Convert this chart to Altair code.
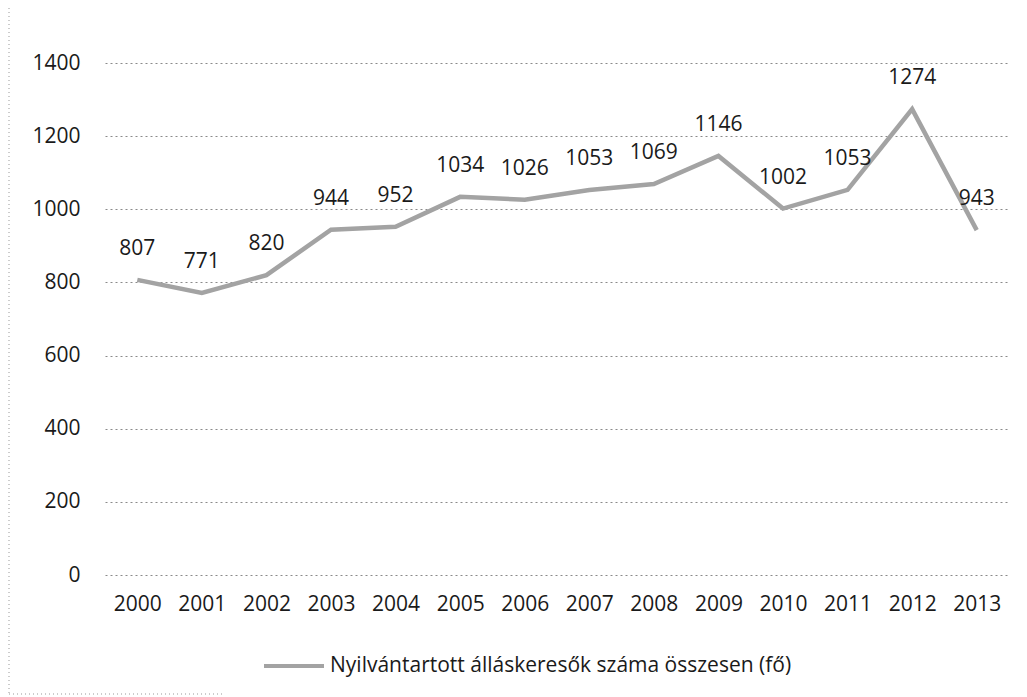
import altair as alt
import pandas as pd

years = ["2000", "2001", "2002", "2003", "2004", "2005", "2006",
         "2007", "2008", "2009", "2010", "2011", "2012", "2013"]
values = [807, 771, 820, 944, 952, 1034, 1026, 1053, 1069, 1146, 1002, 1053, 1274, 943]
series_name = "Nyilvántartott álláskeresők száma összesen (fő)"
y_ticks = [0, 200, 400, 600, 800, 1000, 1200, 1400]

df = pd.DataFrame({"year": years, "value": values, "series": [series_name] * len(years)})

FONT = "Open Sans"
TXT = "#1a1a1a"

x = alt.X(
    "year:O",
    sort=years,
    scale=alt.Scale(type="point", padding=0.5),
    axis=alt.Axis(title=None, labelAngle=0, domain=False, ticks=False,
                  labelPadding=18, grid=False),
)
y = alt.Y(
    "value:Q",
    scale=alt.Scale(domain=[0, 1400], nice=False, zero=True),
    axis=alt.Axis(title=None, values=y_ticks, format="d", domain=False, ticks=False,
                  labelPadding=25, grid=True, gridDash=[2, 3],
                  gridColor="#8a8a8a", gridWidth=1),
)

base = alt.Chart(df)

line = base.mark_line(strokeWidth=4.5).encode(
    x=x,
    y=y,
    color=alt.Color(
        "series:N",
        scale=alt.Scale(range=["#a3a3a3"]),
        legend=alt.Legend(
            title=None, orient="none", legendX=157, legendY=571,
            symbolType="stroke", symbolSize=3600, symbolStrokeWidth=4,
            labelFontSize=21, labelFont=FONT, labelColor=TXT,
            labelLimit=900, labelOffset=4,
        ),
    ),
)

labels = base.mark_text(dy=-31, fontSize=21, font=FONT, color=TXT).encode(
    x=x, y=y, text="value:Q"
)

border_df = pd.DataFrame({"a": [0]})
left_border = alt.Chart(border_df).mark_rule(strokeDash=[1, 3], color="#999999").encode(
    x=alt.value(-96), y=alt.value(-55), y2=alt.value(631)
)
bottom_border = alt.Chart(border_df).mark_rule(strokeDash=[1, 3], color="#999999").encode(
    x=alt.value(-96), x2=alt.value(120), y=alt.value(631)
)

chart = (
    alt.layer(line, labels, left_border, bottom_border)
    .properties(
        width=904,
        height=512,
        autosize=alt.AutoSizeParams(type="none"),
        padding={"left": 97, "top": 55, "right": 10, "bottom": 122},
        background="white",
    )
    .configure_view(stroke=None)
    .configure_axis(labelFont=FONT, labelFontSize=21, labelColor=TXT)
)

chart.save("out.html", embed_options={"renderer": "svg", "actions": False})
